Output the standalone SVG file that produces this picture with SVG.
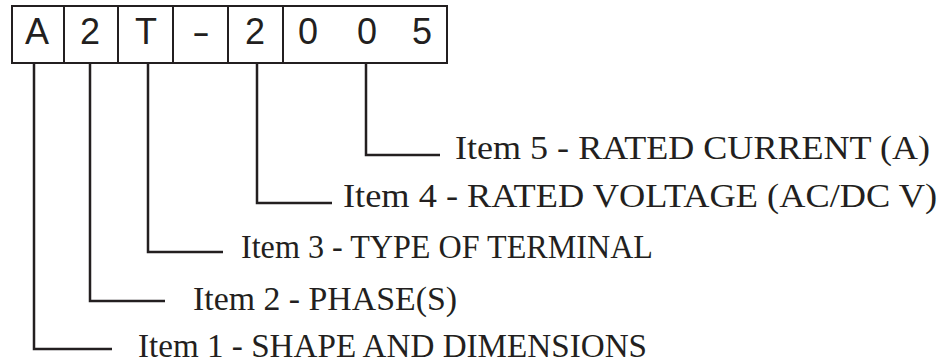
<svg xmlns="http://www.w3.org/2000/svg" width="943" height="364" viewBox="0 0 943 364">
  <style>
    .cell { fill: #fff; stroke: #231f20; stroke-width: 2; }
    .code { font-family: "Liberation Sans", Arial, sans-serif; font-size: 36px; fill: #231f20; text-anchor: middle; }
    .lead { fill: none; stroke: #231f20; stroke-width: 2.5; }
    .label { font-family: "Liberation Serif", "Times New Roman", serif; font-size: 33px; fill: #231f20; }
    .big { font-size: 34px; }
  </style>
  <rect width="943" height="364" fill="#fff"/>

  <!-- Part number code boxes -->
  <g id="code">
    <rect class="cell" x="12" y="6" width="435" height="57"/>
    <path class="cell" d="M64 6V63M118 6V63M173 6V63M228 6V63M283 6V63"/>
    <text class="code" x="37" y="44">A</text>
    <text class="code" x="90" y="44">2</text>
    <text class="code" x="146" y="44">T</text>
    <text class="code" x="201" y="44" transform="translate(201 0) scale(1.5 1) translate(-201 0)">-</text>
    <text class="code" x="255" y="44">2</text>
    <text class="code" x="308" y="44">0</text>
    <text class="code" x="367" y="44">0</text>
    <text class="code" x="422" y="44">5</text>
  </g>

  <!-- Leader lines from each code position -->
  <g id="connectors">
    <path class="lead" d="M34 63V349H112"/>
    <path class="lead" d="M90 63V301H165"/>
    <path class="lead" d="M148 63V252H223"/>
    <path class="lead" d="M257 63V203H332"/>
    <path class="lead" d="M366 63V155H440"/>
  </g>

  <g id="item1"><text class="label" x="138" y="357" textLength="509" lengthAdjust="spacingAndGlyphs">Item 1 - SHAPE AND DIMENSIONS</text></g>
  <g id="item2"><text class="label" x="193" y="310" textLength="264" lengthAdjust="spacingAndGlyphs">Item 2 - PHASE(S)</text></g>
  <g id="item3"><text class="label" x="241" y="258" textLength="412" lengthAdjust="spacingAndGlyphs">Item 3 - TYPE OF TERMINAL</text></g>
  <g id="item4"><text class="label big" x="343" y="207" textLength="594" lengthAdjust="spacingAndGlyphs">Item 4 - RATED VOLTAGE (AC/DC V)</text></g>
  <g id="item5"><text class="label big" x="455" y="159" textLength="475" lengthAdjust="spacingAndGlyphs">Item 5 - RATED CURRENT (A)</text></g>
</svg>
